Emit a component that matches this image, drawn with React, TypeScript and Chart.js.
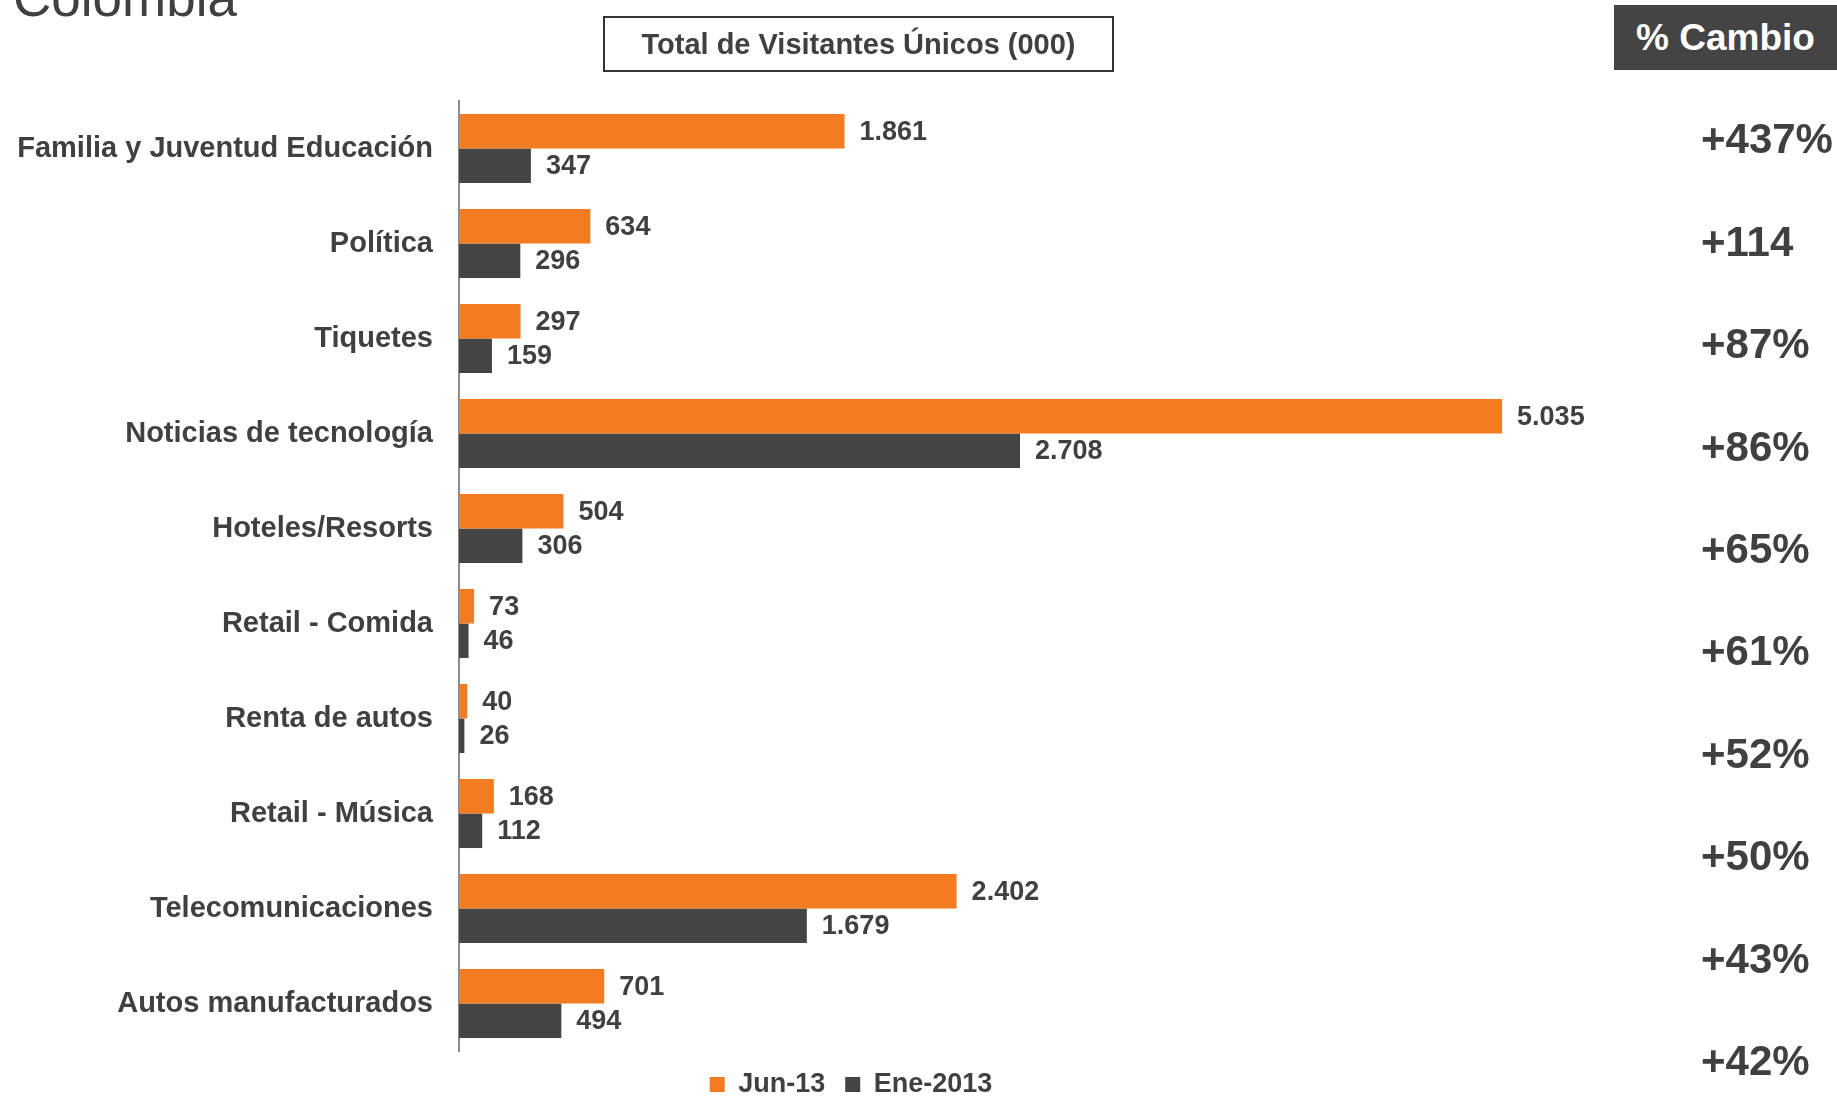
import React, { useEffect, useRef } from "react";
import { Chart, registerables } from "chart.js";

Chart.register(...registerables);

const categories = [
  "Familia y Juventud Educación",
  "Política",
  "Tiquetes",
  "Noticias de tecnología",
  "Hoteles/Resorts",
  "Retail - Comida",
  "Renta de autos",
  "Retail - Música",
  "Telecomunicaciones",
  "Autos manufacturados",
];
const jun13 = [1861, 634, 297, 5035, 504, 73, 40, 168, 2402, 701];
const ene2013 = [347, 296, 159, 2708, 306, 46, 26, 112, 1679, 494];
const pctChange = ["+437%", "+114", "+87%", "+86%", "+65%", "+61%", "+52%", "+50%", "+43%", "+42%"];
const seriesNames = ["Jun-13", "Ene-2013"];

const ORANGE = "#F37B21";
const DARK = "#444444";
const TEXT = "#404040";
const FONT = "'Liberation Sans', Arial, sans-serif";

const fmt = (n: number) => n.toString().replace(/\B(?=(\d{3})+(?!\d))/g, ".");

const valueLabels = {
  id: "valueLabels",
  afterDatasetsDraw(chart: any) {
    const ctx = chart.ctx;
    ctx.save();
    ctx.font = `bold 27px ${FONT}`;
    ctx.fillStyle = TEXT;
    ctx.textAlign = "left";
    ctx.textBaseline = "middle";
    chart.data.datasets.forEach((ds: any, di: number) => {
      const meta = chart.getDatasetMeta(di);
      meta.data.forEach((bar: any, i: number) => {
        ctx.fillText(fmt(ds.data[i]), bar.x + 15, bar.y + 1);
      });
    });
    ctx.restore();
  },
};

export default function App() {
  const ref = useRef<HTMLCanvasElement | null>(null);
  useEffect(() => {
    if (!ref.current) return;
    const chart = new Chart(ref.current, {
      type: "bar",
      data: {
        labels: categories,
        datasets: [
          { label: seriesNames[0], data: jun13, backgroundColor: ORANGE, borderWidth: 0 },
          { label: seriesNames[1], data: ene2013, backgroundColor: DARK, borderWidth: 0 },
        ],
      },
      options: {
        indexAxis: "y",
        animation: false,
        responsive: false,
        maintainAspectRatio: false,
        datasets: { bar: { categoryPercentage: 0.727, barPercentage: 1 } },
        layout: { padding: { top: 101, right: 135, bottom: 0, left: 0 } },
        scales: {
          x: { display: false, min: 0, max: 6000 },
          y: {
            position: "left",
            afterFit: (s: any) => {
              s.width = 459;
            },
            grid: { display: true, drawOnChartArea: false, drawTicks: false },
            border: { display: true, color: "#8c8c8c", width: 2 },
            ticks: {
              padding: 26,
              color: TEXT,
              font: { family: FONT, size: 29, weight: "bold" },
            },
          },
        },
        plugins: {
          legend: {
            display: true,
            position: "bottom",
            labels: {
              boxWidth: 15,
              boxHeight: 15,
              padding: 20,
              color: TEXT,
              font: { family: FONT, size: 27, weight: "bold" },
            },
          },
          tooltip: { enabled: false },
        },
      },
      plugins: [valueLabels],
    } as any);
    return () => chart.destroy();
  }, []);

  return (
    <div
      style={{
        position: "fixed",
        left: 0,
        top: 0,
        width: 1837,
        height: 1097,
        overflow: "hidden",
        background: "#fff",
        fontFamily: FONT,
        color: TEXT,
      }}
    >
      <canvas ref={ref} width={1837} height={1108} style={{ position: "absolute", left: 0, top: 0 }} />
      <div
        style={{
          position: "absolute",
          left: 13,
          top: -29,
          fontSize: 53,
          lineHeight: "53px",
          whiteSpace: "nowrap",
        }}
      >
        Colombia
      </div>
      <div
        style={{
          position: "absolute",
          left: 603,
          top: 16,
          width: 511,
          height: 56,
          boxSizing: "border-box",
          border: "2px solid #333",
          display: "flex",
          alignItems: "center",
          justifyContent: "center",
          fontSize: 29,
          fontWeight: "bold",
          whiteSpace: "nowrap",
        }}
      >
        Total de Visitantes Únicos (000)
      </div>
      <div
        style={{
          position: "absolute",
          left: 1614,
          top: 5,
          width: 223,
          height: 65,
          background: DARK,
          color: "#fff",
          display: "flex",
          alignItems: "center",
          justifyContent: "center",
          fontSize: 37,
          fontWeight: "bold",
          whiteSpace: "nowrap",
        }}
      >
        % Cambio
      </div>
      <div style={{ position: "absolute", left: 1701, top: 88.2 }}>
        {pctChange.map((p, i) => (
          <div
            key={i}
            style={{
              height: 102.4,
              display: "flex",
              alignItems: "center",
              fontSize: 42,
              fontWeight: "bold",
              whiteSpace: "nowrap",
            }}
          >
            {p}
          </div>
        ))}
      </div>
    </div>
  );
}
